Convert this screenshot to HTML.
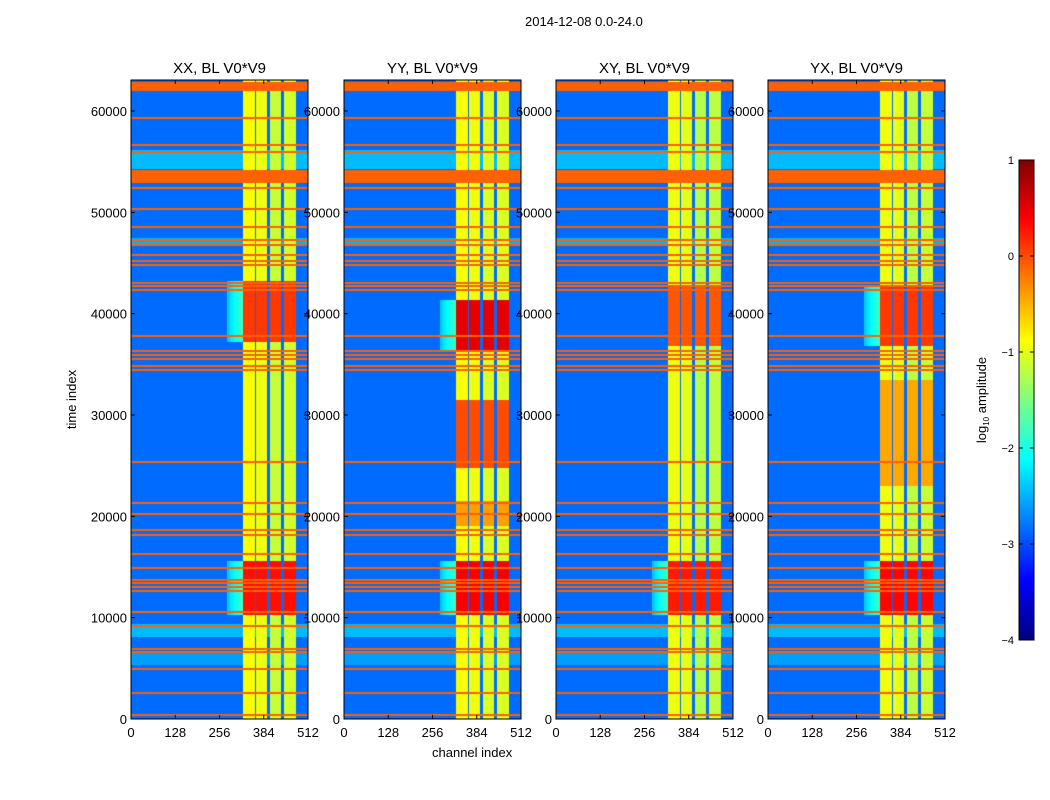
<!DOCTYPE html>
<html><head><meta charset="utf-8"><style>
body{margin:0;background:#fff;font-family:"Liberation Sans",sans-serif;}
#root{position:relative;width:1050px;height:800px;overflow:hidden;background:#fff}
.t{position:absolute;font-size:13px;color:#000;white-space:nowrap}
</style></head><body>
<div id="root">
<div class="t" style="left:525px;top:14px">2014-12-08 0.0-24.0</div>
<div class="t" style="left:432px;top:745px">channel index</div>
<div class="t" style="left:42px;top:392px;transform:rotate(-90deg)">time index</div>
<svg id="svg" width="1050" height="800" style="position:absolute;left:0;top:0"></svg>
</div>
<script>
// ---- data ----
const panelTitles = ["XX, BL V0*V9","YY, BL V0*V9","XY, BL V0*V9","YX, BL V0*V9"];
const xTicks = [0,128,256,384,512];
const yTicks = [0,10000,20000,30000,40000,50000,60000];
const cbTicks = [1,0,-1,-2,-3,-4];
const cbLabels = ["1","0","\u22121","\u22122","\u22123","\u22124"];
// bright channel bands
const bandStarts = [324,365,405,445];
const bandEnds = [359,398,437,480];
const bandLevels = [[-0.9,-0.95,-1.15,-1.1],[-0.9,-0.95,-1.05,-1.05],[-0.95,-1.0,-1.25,-1.2],[-0.95,-1.0,-1.2,-1.15]];
const bgLevel = -2.85;
// lighter background time ranges [t0, t1, level]
const bgRanges = [[54300,56200,-2.45],[8100,9400,-2.45],[5300,6600,-2.6],[46800,47500,-2.5]];
// RFI horizontal lines: time, half-width, level
const rfiTimes = [62400,59310,56650,55950,53550,52400,50330,48550,47270,46780,45790,45200,44800,43030,42730,42340,37800,36320,35920,35530,34840,34440,25360,21320,20230,18650,18160,16280,14900,13720,13420,13030,12630,10560,9180,6910,6610,4930,2570,390];
const rfiWidths = [450,90,90,90,650,90,90,90,90,90,90,90,90,90,90,90,90,90,90,90,90,90,90,90,90,90,90,90,90,90,90,90,90,90,90,90,90,90,90,90];
const rfiLevels = [-0.1,-0.1,-0.1,-0.1,-0.1,-0.1,-0.1,-0.1,-0.1,-0.1,-0.1,-0.1,-0.1,-0.1,-0.1,-0.1,-0.1,-0.1,-0.1,-0.1,-0.1,-0.1,-0.1,-0.1,-0.1,-0.1,-0.1,-0.1,-0.1,-0.1,-0.1,-0.1,-0.1,-0.1,-0.1,-0.1,-0.1,-0.1,-0.1,-0.1];
// hot time regions per panel: [t0, t1, level]
const hotRegions = [
 [[37200,43200,0.1],[10300,15600,0.3]],
 [[36200,41300,0.5],[24800,31500,0.0],[10300,15600,0.4],[19000,21500,-0.4]],
 [[36800,42800,-0.05],[10300,15600,0.25]],
 [[36800,42800,0.1],[23000,33500,-0.45],[10300,15600,0.35]]
];
// ---- layout ----
const panelLeft=[131,344,556,768], PW=177, PT=80, PB=719, TMAX=63060;
const svg=document.getElementById('svg'), NS='http://www.w3.org/2000/svg';
function el(tag,attrs,parent){const e=document.createElementNS(NS,tag);for(const k in attrs)e.setAttribute(k,attrs[k]);(parent||svg).appendChild(e);return e;}
function jet(v){let x=(v+4)/5;x=Math.max(0,Math.min(1,x));
 const r=Math.max(0,Math.min(1,1.5-Math.abs(4*x-3))),g=Math.max(0,Math.min(1,1.5-Math.abs(4*x-2))),b=Math.max(0,Math.min(1,1.5-Math.abs(4*x-1)));
 return `rgb(${r*255|0},${g*255|0},${b*255|0})`;}
function value(p,ch,t){
 let v=bgLevel;
 for(const r of bgRanges) if(t>=r[0]&&t<r[1]) v=r[2];
 let inBand=false;
 for(let i=0;i<bandStarts.length;i++) if(ch>=bandStarts[i]&&ch<bandEnds[i]){v=bandLevels[p][i];inBand=true;}
 for(const h of hotRegions[p]) if(t>=h[0]&&t<h[1]){ if(inBand) v=Math.max(v,h[2]); else if(h[2]>0&&ch>=280&&ch<bandStarts[0]) v=Math.max(v,-2.4+(ch-280)/44*0.6);}
 for(let i=0;i<rfiTimes.length;i++) if(Math.abs(t-rfiTimes[i])<=rfiWidths[i]) v=rfiLevels[i];
 return v;}
const xs=(p,c)=>panelLeft[p]+c/512*PW, ys=t=>PB-t/TMAX*(PB-PT);
for(let p=0;p<4;p++){
 const L=panelLeft[p];
 const g=el('g',{});
 
 
 const cv=document.createElement('canvas');cv.width=PW;cv.height=PB-PT;
 const ctx=cv.getContext('2d');
 const dt=TMAX/(PB-PT);
 for(let c=0;c<512;c+=4){for(let r=0;r<PB-PT;r++){const t=TMAX-(r+0.5)*dt;ctx.fillStyle=jet(value(p,c+2,t));const x0=xs(p,c)-L,x1=xs(p,c+4)-L;ctx.fillRect(Math.floor(x0),r,Math.ceil(x1)-Math.floor(x0),1);}}
 const fo=el('foreignObject',{x:L,y:PT,width:PW,height:PB-PT},g);
 fo.appendChild(cv);
 el('rect',{x:L,y:PT,width:PW,height:PB-PT,fill:'none',stroke:'#000','stroke-width':1},g);
 const ti=el('text',{x:L+PW/2,y:73,'text-anchor':'middle','font-size':15,'font-family':'Liberation Sans'});ti.textContent=panelTitles[p];
 
 for(const xt of xTicks){const x=xs(p,xt);el('line',{x1:x,x2:x,y1:PB,y2:PB-4,stroke:'#000'});el('line',{x1:x,x2:x,y1:PT,y2:PT+4,stroke:'#000'});
  const tx=el('text',{x:x,y:PB+18,'text-anchor':'middle','font-size':13,'font-family':'Liberation Sans'});tx.textContent=xt;
  }
 for(const yt of yTicks){const y=ys(yt);el('line',{x1:L,x2:L+4,y1:y,y2:y,stroke:'#000'});el('line',{x1:L+PW,x2:L+PW-4,y1:y,y2:y,stroke:'#000'});
  const ty=el('text',{x:L-4,y:y+5,'text-anchor':'end','font-size':13,'font-family':'Liberation Sans'});ty.textContent=yt;
  }
}
// colorbar
const CB={x:1019,w:15,top:160,bot:640};
const cbg=el('g',{});


for(let i=0;i<CB.bot-CB.top;i++){const v=1-(i+0.5)/(CB.bot-CB.top)*5;el('rect',{x:CB.x,y:CB.top+i,width:CB.w,height:1.2,fill:jet(v)},cbg);}
el('rect',{x:CB.x,y:CB.top,width:CB.w,height:CB.bot-CB.top,fill:'none',stroke:'#000'},cbg);
cbTicks.forEach((v,i)=>{const y=CB.top+(1-v)/5*(CB.bot-CB.top);el('line',{x1:CB.x,x2:CB.x+4,y1:y,y2:y,stroke:'#000'},cbg);el('line',{x1:CB.x+CB.w,x2:CB.x+CB.w-4,y1:y,y2:y,stroke:'#000'},cbg);
 const t=el('text',{x:CB.x-5,y:y+4,'text-anchor':'end','font-size':11,'font-family':'Liberation Sans'},cbg);t.textContent=cbLabels[i];
 });
const lab=el('text',{x:0,y:0,'text-anchor':'middle','font-size':13,'font-family':'Liberation Sans',transform:'translate(986,400) rotate(-90)'});

lab.innerHTML='log<tspan font-size="8" dy="3">10</tspan><tspan dy="-3"> amplitude</tspan>';
</script>
</body></html>
